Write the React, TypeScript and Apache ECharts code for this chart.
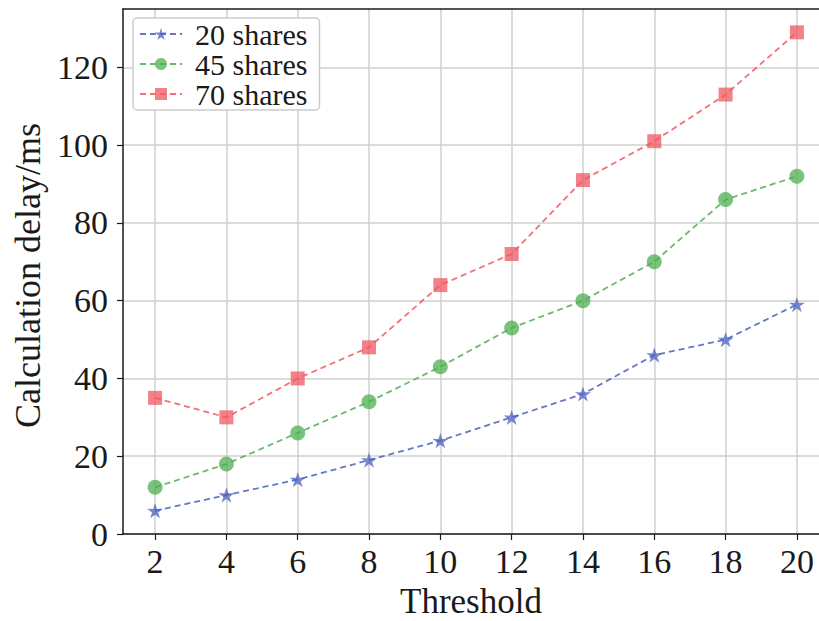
import React, { useEffect, useRef } from "react";
import * as echarts from "echarts";

const thresholds = [2, 4, 6, 8, 10, 12, 14, 16, 18, 20];
const shares20 = [6, 10, 14, 19, 24, 30, 36, 46, 50, 59];
const shares45 = [12, 18, 26, 34, 43, 53, 60, 70, 86, 92];
const shares70 = [35, 30, 40, 48, 64, 72, 91, 101, 113, 129];
const xTicks = [2, 4, 6, 8, 10, 12, 14, 16, 18, 20];
const yTicks = [0, 20, 40, 60, 80, 100, 120];
const seriesNames = ["20 shares", "45 shares", "70 shares"];

const STAR =
  "path://M50 0 L61.17 34.63 L97.55 34.55 L68.07 55.87 L79.39 90.45 L50 69 L20.61 90.45 L31.93 55.87 L2.45 34.55 L38.83 34.63 Z";

const FONT = "Liberation Serif";
const X_MIN = 1.1;
const X_MAX = 20.62;

export default function App() {
  const ref = useRef<HTMLDivElement>(null);
  useEffect(() => {
    if (!ref.current) return;
    const chart = echarts.init(ref.current, null, { renderer: "svg" });
    const mk = (
      name: string,
      values: number[],
      color: string,
      symbol: string,
      size: number
    ) => ({
      name,
      type: "line",
      data: thresholds.map((t, i) => [t, values[i]]),
      symbol,
      symbolSize: size,
      symbolKeepAspect: true,
      lineStyle: { color, width: 1.8, type: [6, 4], opacity: 0.85 },
      itemStyle: { color, opacity: 0.75 },
      z: 3,
    });
    chart.setOption({
      animation: false,
      backgroundColor: "#ffffff",
      textStyle: { fontFamily: FONT },
      grid: {
        left: 123,
        top: 9,
        right: 0,
        height: 525,
        show: false,
        containLabel: false,
        outerBoundsMode: "none",
      },
      legend: {
        data: seriesNames,
        orient: "vertical",
        left: 133,
        top: 18,
        padding: [1, 12, 1, 6],
        itemGap: 0,
        itemWidth: 42,
        itemHeight: 15,
        backgroundColor: "#ffffff",
        borderColor: "#cccccc",
        borderWidth: 1.5,
        borderRadius: 4,
        textStyle: {
          fontFamily: FONT,
          fontSize: 30,
          lineHeight: 30,
          color: "#1a1a1a",
          padding: [0, 0, 0, 8],
        },
      },
      xAxis: [
        {
          type: "value",
          min: X_MIN,
          max: X_MAX,
          name: "Threshold",
          nameLocation: "middle",
          nameGap: 52,
          nameTextStyle: {
            fontFamily: FONT,
            fontSize: 35,
            lineHeight: 30,
            color: "#1a1a1a",
          },
          axisLine: { show: true, lineStyle: { color: "#1a1a1a", width: 1.5 } },
          axisTick: {
            show: true,
            inside: false,
            length: 6,
            customValues: xTicks,
            lineStyle: { color: "#1a1a1a", width: 1.2 },
          },
          axisLabel: {
            customValues: xTicks,
            margin: 10,
            fontFamily: FONT,
            fontSize: 34,
            color: "#1a1a1a",
          },
          splitLine: { show: true, lineStyle: { color: "#d0d0d0", width: 1.5 } },
        },
        {
          type: "value",
          position: "top",
          min: X_MIN,
          max: X_MAX,
          axisLine: { show: true, lineStyle: { color: "#1a1a1a", width: 1.5 } },
          axisTick: { show: false },
          axisLabel: { show: false },
          splitLine: { show: false },
        },
      ],
      yAxis: {
        type: "value",
        min: 0,
        max: 135,
        name: "Calculation delay/ms",
        nameLocation: "middle",
        nameGap: 74,
        nameTextStyle: {
          fontFamily: FONT,
          fontSize: 36,
          color: "#1a1a1a",
          padding: [0, 8, 0, 0],
        },
        axisLine: { show: true, lineStyle: { color: "#1a1a1a", width: 1.5 } },
        axisTick: {
          show: true,
          inside: false,
          length: 6,
          customValues: yTicks,
          lineStyle: { color: "#1a1a1a", width: 1.2 },
        },
        axisLabel: {
          customValues: yTicks,
          margin: 15,
          fontFamily: FONT,
          fontSize: 34,
          color: "#1a1a1a",
        },
        splitLine: { show: true, lineStyle: { color: "#d0d0d0", width: 1.5 } },
      },
      series: [
        mk(seriesNames[0], shares20, "#4a60bd", STAR, 16),
        mk(seriesNames[1], shares45, "#4caf50", "circle", 15),
        mk(seriesNames[2], shares70, "#f0575f", "rect", 14),
      ],
    });
    return () => chart.dispose();
  }, []);
  return (
    <div
      ref={ref}
      style={{ position: "fixed", left: 0, top: 0, width: 819, height: 621 }}
    />
  );
}
